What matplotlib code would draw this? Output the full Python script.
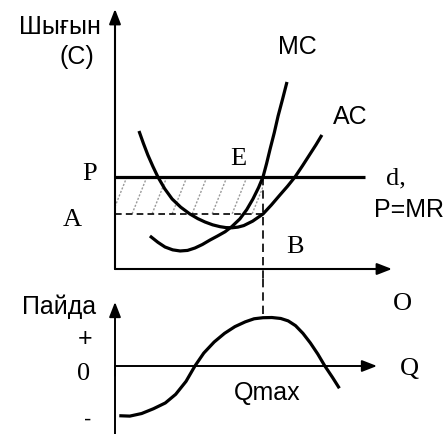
import numpy as np
import matplotlib
matplotlib.use('Agg')
from matplotlib import pyplot as plt
from matplotlib.patches import Rectangle

# -----------------------------
# data (Q units, cost units, profit units)
# -----------------------------
price = 10.0          # P = MR (line d)
avg_cost_q = 5.98     # A = AC at Qmax
q_opt = 5.0           # Qmax

mc_q = [1.18, 1.45, 1.69, 1.95, 2.20, 2.45, 2.70, 2.95, 3.21, 3.46, 3.72, 3.95, 4.22, 4.45, 4.66, 4.85, 5.00, 5.12, 5.24, 5.38, 5.51, 5.66, 5.81]
mc_c = [3.59, 2.90, 2.39, 2.08, 1.96, 2.02, 2.28, 2.66, 3.15, 3.58, 4.05, 4.62, 5.45, 6.45, 7.61, 8.85, 10.0, 11.45, 13.04, 14.80, 16.63, 18.45, 20.33]

ac_q = [0.81, 0.96, 1.11, 1.28, 1.45, 1.68, 1.93, 2.22, 2.53, 2.80, 3.04, 3.30, 3.55, 3.75, 3.95, 4.15, 4.35, 4.65, 5.00, 5.28, 5.57, 5.83, 6.08, 6.33, 6.59, 6.79, 6.99]
ac_c = [15.0, 13.65, 12.39, 11.15, 10.0, 8.72, 7.61, 6.72, 5.98, 5.47, 5.11, 4.80, 4.60, 4.50, 4.48, 4.55, 4.72, 5.20, 5.98, 6.95, 8.04, 9.00, 10.0, 11.20, 12.50, 13.50, 14.57]

pf_q = [0.145, 0.5, 0.9, 1.3, 1.7, 2.05, 2.4, 2.7, 3.0, 3.35, 3.7, 4.05, 4.4, 4.7, 5.0, 5.3, 5.6, 5.85, 6.1, 6.35, 6.6, 6.85, 7.09, 7.35, 7.58]
pf_v = [-5.18, -5.22, -4.95, -4.45, -3.85, -2.95, -1.6, 0.0, 1.35, 2.5, 3.4, 4.1, 4.6, 4.92, 5.03, 5.05, 4.95, 4.7, 4.2, 3.4, 2.4, 1.25, 0.0, -1.2, -2.32]

# -----------------------------
# figure: 444 x 435 px
# -----------------------------
W, H = 444, 435
fig = plt.figure(figsize=(W / 100, H / 100), dpi=100)
qs = 29.6   # px per Q unit
cs = 9.2    # px per cost unit
ps = 9.6    # px per profit unit

ax1 = fig.add_axes([0, 155 / H, 1, 280 / H])
ax1.set_xlim(-115 / qs, (W - 115) / qs)
ax1.set_ylim(-10 / cs, 270 / cs)
ax1.axis('off')

ax2 = fig.add_axes([0, 0, 1, 155 / H])
ax2.set_xlim(-115 / qs, (W - 115) / qs)
ax2.set_ylim(-(435 - 367) / ps, (367 - 280) / ps)
ax2.axis('off')

arrow = dict(arrowstyle='-|>,head_length=0.9,head_width=0.35', color='k', lw=1.5, shrinkA=0, shrinkB=0)

# top panel axes
ax1.annotate('', xy=(0, 260 / cs), xytext=(0, 0), arrowprops=arrow)
ax1.annotate('', xy=((392 - 115) / qs, 0), xytext=(0, 0), arrowprops=arrow)

# hatched area between P and A
clip = Rectangle((0, avg_cost_q), q_opt, price - avg_cost_q, transform=ax1.transData)
for k in range(10):
    xt = 0.40 + k * 0.676
    ln, = ax1.plot([xt, xt - 0.5], [price, avg_cost_q], color='#9a9a9a', lw=1.0, ls=(0, (1.5, 1.2)))
    ln.set_clip_path(clip)

# price line d, A line, Qmax line
ax1.plot([0, (365 - 115) / qs], [price, price], color='k', lw=2.3, solid_capstyle='butt')
ax1.plot([0, q_opt], [avg_cost_q, avg_cost_q], color='k', lw=1.2, dashes=(4, 2.5))
ax1.plot([q_opt, q_opt], [price, -10 / cs], color='k', lw=1.2, dashes=(5, 3), clip_on=False)
ax2.plot([q_opt, q_opt], [(367 - 280) / ps, 5.03], color='k', lw=1.2, dashes=(5, 3), clip_on=False)

# cost curves
ax1.plot(mc_q, mc_c, color='k', lw=2.3, solid_joinstyle='round', solid_capstyle='butt')
ax1.plot(ac_q, ac_c, color='k', lw=2.3, solid_joinstyle='round', solid_capstyle='butt')

# bottom panel axes
ax2.plot([0, 0], [-(435 - 367) / ps, 0], color='k', lw=1.4, clip_on=False)
ax2.annotate('', xy=(0, (367 - 303) / ps), xytext=(0, -1), arrowprops=dict(arrow, lw=1.4))
ax2.annotate('', xy=((377 - 115) / qs, 0), xytext=(0, 0), arrowprops=dict(arrow, lw=1.4))
ax2.plot(pf_q, pf_v, color='k', lw=2.3, solid_joinstyle='round', solid_capstyle='butt')

# -----------------------------
# labels
# -----------------------------
sans = ['Liberation Sans', 'DejaVu Sans']
serif = ['Liberation Serif', 'DejaVu Serif']
kw = dict(ha='center', va='center', clip_on=False)

ax1.text(-1.858, 26.41, 'Шығын', family=sans, fontsize=18, **kw)
ax1.text(-1.284, 23.15, '(C)', family=sans, fontsize=18, **kw)
ax1.text(6.149, 24.24, 'MC', family=sans, fontsize=18, **kw)
ax1.text(7.939, 16.63, 'AC', family=sans, fontsize=18, **kw)
ax1.text(9.932, 6.52, 'P=MR', family=sans, fontsize=18, **kw)
ax1.text(-0.845, 10.43, 'P', family=serif, fontsize=19, **kw)
ax1.text(-1.453, 5.43, 'A', family=serif, fontsize=19, **kw)
ax1.text(4.155, 12.07, 'E', family=serif, fontsize=19, **kw)
ax1.text(9.493, 9.9, 'd,', family=serif, fontsize=19, **kw)
ax1.text(6.081, 2.5, 'B', family=serif, fontsize=19, **kw)

ax2.text(-1.892, 6.25, 'Пайда', family=sans, fontsize=18, **kw)
ax2.text(5.135, -2.708, 'Qmax', family=sans, fontsize=18, **kw)
ax2.text(9.696, 6.56, 'O', family=serif, fontsize=19, **kw)
ax2.text(9.932, -0.2, 'Q', family=serif, fontsize=19, **kw)
ax2.text(-1.014, 2.917, '+', family=sans, fontsize=18, **kw)
ax2.text(-1.047, -0.729, '0', family=serif, fontsize=19, **kw)
ax2.text(-0.912, -5.52, '-', family=sans, fontsize=16, **kw)

plt.savefig('out.png', dpi=100)
